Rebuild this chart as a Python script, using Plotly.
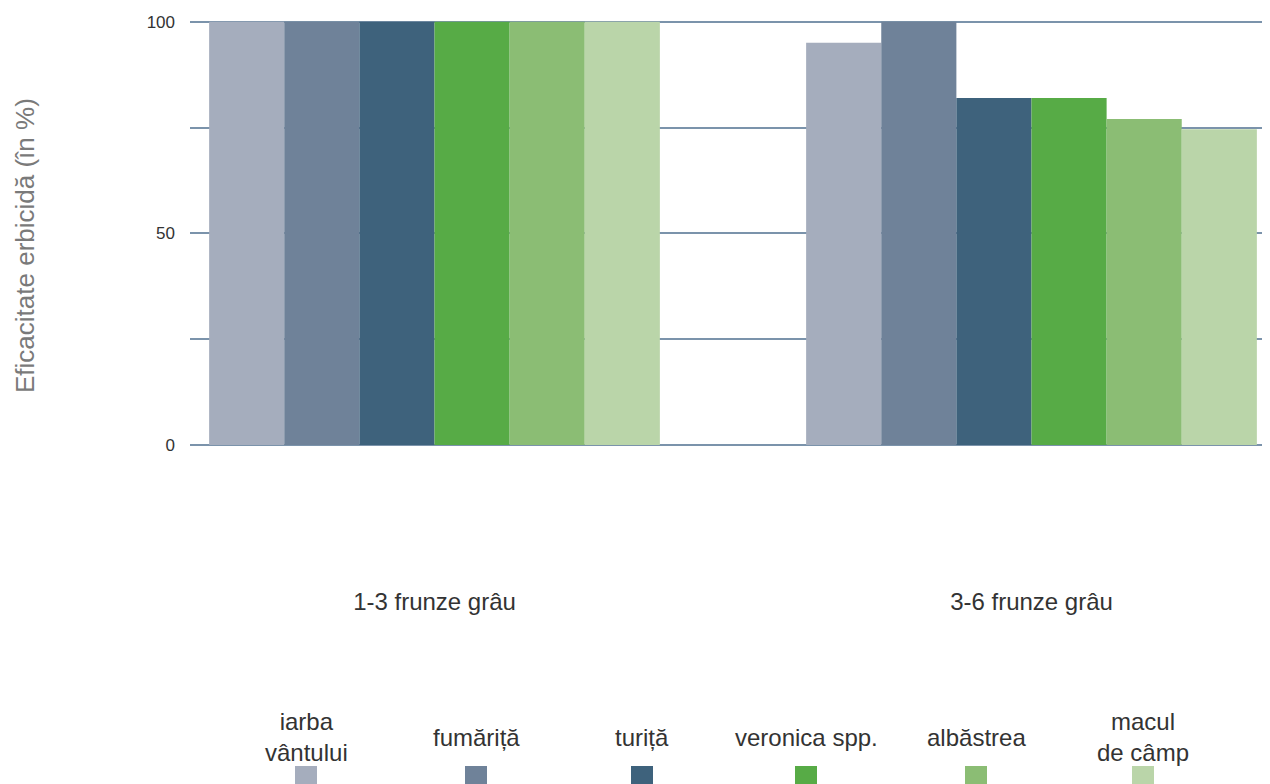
import plotly.graph_objects as go

categories = ["1-3 frunze grâu", "3-6 frunze grâu"]
series_names = ["iarba<br>vântului", "fumăriță", "turiță", "veronica spp.", "albăstrea", "macul<br>de câmp"]
series_values = [
    [100, 95],
    [100, 100],
    [100, 82],
    [100, 82],
    [100, 77],
    [100, 74.6],
]
colors = ["#a5adbd", "#6f8299", "#3e627c", "#57ab46", "#8bbd74", "#bad5a9"]
y_tickvals = [0, 25, 50, 75, 100]
y_ticktext = ["0", "", "50", "", "100"]
y_title = "Eficacitate erbicidă (în %)"

OFF = 8  # page body margin
W, H = 1280, 784 - OFF
L, T = 190 - OFF, 20 - OFF
PLOT_BOTTOM = 445 - OFF
B = H - PLOT_BOTTOM
R = 0
YMAX = 100.4

# category layout in reference page pixels
C0_PX, C1_PX = 434.5, 1031.5
UNIT = C1_PX - C0_PX
plot_left_page = L + OFF
plot_right_page = W - R + OFF
x_range = [-(C0_PX - plot_left_page) / UNIT, 1 + (plot_right_page - C1_PX) / UNIT]

fig = go.Figure()
for name, vals, col in zip(series_names, series_values, colors):
    fig.add_trace(go.Bar(x=categories, y=vals, name=name.replace("<br>", " "),
                         marker=dict(color=col, line=dict(width=0)), showlegend=False))

# custom legend: text above a square swatch (positions in reference page pixels)
legend_px = [306, 476, 642, 806, 976, 1143]
pw, ph = W - L - R, H - T - B
def px2x(px):
    return (px - OFF - L) / pw
def py2y(py):
    return (PLOT_BOTTOM - (py - OFF)) / ph

for name, col, cx in zip(series_names, colors, legend_px):
    fig.add_annotation(x=px2x(cx), y=py2y(737), xref="paper", yref="paper",
                       text=name, showarrow=False, xanchor="center", yanchor="middle",
                       font=dict(size=24, color="#333333", family="Liberation Sans, Arial, sans-serif"))
    fig.add_shape(type="rect", xref="paper", yref="paper",
                  x0=px2x(cx - 11), x1=px2x(cx + 11), y0=py2y(790), y1=py2y(766),
                  fillcolor=col, line=dict(width=0))

# y-axis title
fig.add_annotation(x=px2x(25), y=py2y(246), xref="paper", yref="paper",
                   text=y_title, textangle=-90, showarrow=False,
                   xanchor="center", yanchor="middle",
                   font=dict(size=26, color="#7a7a7a", family="Liberation Sans, Arial, sans-serif"))

fig.update_layout(
    width=W, height=H,
    margin=dict(l=L, r=R, t=T, b=B, autoexpand=False),
    plot_bgcolor="white", paper_bgcolor="white",
    barmode="group", bargap=0.245, bargroupgap=0,
    font=dict(family="Liberation Sans, Arial, sans-serif", color="#333333"),
    xaxis=dict(type="category", range=x_range, showgrid=False, zeroline=False,
               showline=False, ticks="", ticklabelstandoff=140,
               tickfont=dict(size=24, color="#333333")),
    yaxis=dict(range=[0, YMAX], tickvals=y_tickvals, ticktext=y_ticktext,
               showgrid=True, gridcolor="#7b93ab", gridwidth=1.5,
               zeroline=True, zerolinecolor="#7b93ab", zerolinewidth=1.5,
               showline=False, ticks="", ticklabelstandoff=14,
               tickfont=dict(size=17, color="#333333")),
)

fig.write_html("out.html")
